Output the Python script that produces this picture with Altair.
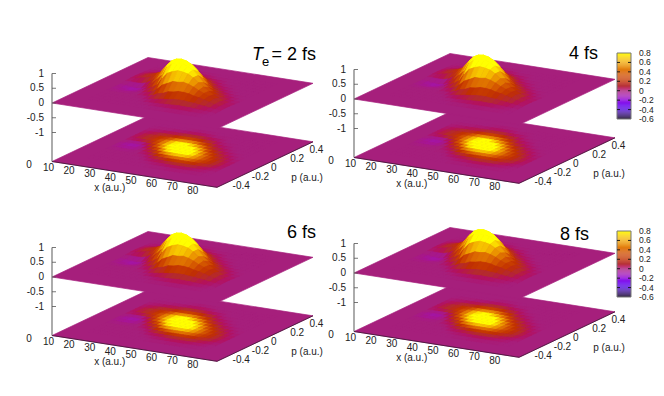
import altair as alt
import pandas as pd

alt.data_transformers.disable_max_rows()

# --- values ---
x_nodes = [20, 22.5, 25, 27.5, 30, 32.5, 35, 37.5, 40, 42.5, 45, 47.5, 50, 52.5, 55, 57.5, 60, 62.5, 65, 67.5, 70, 72.5, 75, 77.5]
p_nodes = [0.40, 0.35, 0.30, 0.25, 0.20, 0.15, 0.10, 0.05, 0.0, -0.05, -0.10, -0.15, -0.20, -0.25, -0.30, -0.35]
# surface height in hundredths; one column per x node, rows follow p_nodes
surface_columns = [
    [0, 0, 0, 1, 2, 3, 2, 1, -2, -2, -1, 0, 0, 0, 0, 0],
    [0, 0, 1, 2, 5, 6, 5, 1, -4, -4, -2, 0, 0, 0, 0, 0],
    [0, 0, 1, 3, 8, 11, 9, 0, -7, -7, -3, 0, 0, 0, 0, 0],
    [0, 0, 1, 5, 11, 15, 12, 1, -9, -8, -3, 0, 0, 0, 0, 0],
    [0, 0, 2, 7, 15, 21, 18, 5, -6, -6, -2, 0, 0, 0, 0, 0],
    [0, 0, 3, 9, 20, 29, 28, 15, 1, -2, -1, 0, 0, 0, 0, 0],
    [0, 0, 3, 10, 23, 37, 41, 32, 16, 5, 1, 0, 0, 0, 0, 0],
    [0, 1, 5, 14, 31, 52, 62, 52, 33, 14, 5, 1, 0, 0, 0, 0],
    [0, 2, 5, 16, 38, 65, 80, 75, 50, 25, 9, 2, 0, 0, 0, 0],
    [0, 2, 6, 17, 40, 68, 92, 94, 80, 50, 22, 7, 2, 0, 0, 0],
    [0, 1, 5, 16, 38, 72, 94, 100, 94, 70, 38, 16, 5, 1, 0, 0],
    [0, 1, 4, 13, 33, 65, 90, 100, 98, 78, 46, 20, 7, 2, 0, 0],
    [0, 0, 2, 9, 24, 50, 80, 97, 99, 84, 55, 28, 10, 3, 1, 0],
    [0, 0, 1, 6, 17, 38, 66, 90, 94, 82, 55, 30, 12, 4, 1, 0],
    [0, 0, 1, 3, 10, 24, 47, 72, 84, 78, 58, 34, 15, 5, 1, 0],
    [0, 0, 0, 1, 4, 12, 28, 52, 68, 68, 54, 34, 16, 6, 2, 0],
    [0, 0, 0, 0, 2, 6, 15, 32, 47, 54, 47, 32, 16, 7, 2, 0],
    [0, 0, 0, 0, 1, 3, 8, 20, 33, 42, 38, 27, 14, 6, 2, 0],
    [0, 0, 0, 0, 0, 1, 4, 11, 22, 30, 31, 24, 13, 6, 2, 0],
    [0, 0, 0, 0, 0, 0, 2, 6, 13, 21, 24, 19, 10, 4, 1, 0],
    [0, 0, 0, 0, 0, 0, 0, 3, 8, 13, 17, 14, 8, 3, 1, 0],
    [0, 0, 0, 0, 0, 0, 0, 1, 3, 7, 10, 9, 5, 2, 1, 0],
    [0, 0, 0, 0, 0, 0, 0, 0, 1, 3, 5, 5, 3, 1, 0, 0],
    [0, 0, 0, 0, 0, 0, 0, 0, 0, 1, 2, 2, 1, 0, 0, 0],
]
panel_peak = [1.0, 1.0, 1.0, 0.98]
panel_names = ["2", "4 fs", "6 fs", "8 fs"]
x_ticks = [10, 20, 30, 40, 50, 60, 70, 80]
p_ticks = [-0.4, -0.2, 0, 0.2, 0.4]
p_tick_text = ["-0.4", "-0.2", "0", "0.2", "0.4"]
z_ticks = [1, 0.5, 0, -0.5, -1]
z_tick_text = ["1", "0.5", "0", "-0.5", "-1"]
cb_ticks = [0.8, 0.6, 0.4, 0.2, 0, -0.2, -0.4, -0.6]
cb_tick_text = ["0.8", "0.6", "0.4", "0.2", "0", "-0.2", "-0.4", "-0.6"]
color_stops = [-0.6, -0.5, -0.4, -0.3, -0.2, -0.1, 0, 0.1, 0.2, 0.3, 0.4, 0.5, 0.6, 0.7, 0.8]
color_values = ["#2a1f3a", "#381080", "#4a00d8", "#6a00f0", "#9010e0", "#a018b0", "#a61f7c", "#b32a30",
                "#c03000", "#cc4400", "#da6400", "#e68400", "#f0a400", "#f8cc00", "#ffff00"]

# --- layout of the gnuplot-style projection ---
X0, X1, P0, P1 = 10, 90, -0.5, 0.5
UX, UY = 165 / 80, 25.8 / 80
VX, VY = 96, -45.5
ZS = 29.5
FLOOR = 58.5
origins = [(52, 103), (354, 99), (52, 277), (354, 273)]
CBAR = [None, (617, 53), None, (617, 231)]
CB_W, CB_H = 14, 66


def proj(o, x, p, z=0.0, floor=False):
    return (o[0] + (x - X0) * UX + (p - P0) * VX,
            o[1] + (x - X0) * UY + (p - P0) * VY - z * ZS + (FLOOR if floor else 0))


rows = []
qid = 0


def add_quad(o, corners, z, floor):
    global qid
    qid += 1
    corners = corners + corners[:1]
    for k, (cx, cp, cz) in enumerate(corners):
        sx, sy = proj(o, cx, cp, cz, floor)
        rows.append(dict(q=qid, k=k, sx=round(sx, 2), sy=round(sy, 2), v=round(z, 3)))


for n, o in enumerate(origins):
    amp = panel_peak[n] / 100
    for flat in (True, False):
        add_quad(o, [(X0, P0, 0), (X1, P0, 0), (X1, P1, 0), (X0, P1, 0)], 0.0, flat)
        for j in range(len(p_nodes) - 1):
            for i in range(len(x_nodes) - 1):
                zs = [surface_columns[i][j], surface_columns[i + 1][j],
                      surface_columns[i + 1][j + 1], surface_columns[i][j + 1]]
                mean = sum(zs) / 4 * amp
                hs = [0 if flat else a * amp for a in zs]
                add_quad(o, [(x_nodes[i], p_nodes[j], hs[0]), (x_nodes[i + 1], p_nodes[j], hs[1]),
                             (x_nodes[i + 1], p_nodes[j + 1], hs[2]), (x_nodes[i], p_nodes[j + 1], hs[3])],
                         mean, flat)

surface = pd.DataFrame(rows)

xs = alt.Scale(domain=[8, 656], nice=False, zero=False)
ys = alt.Scale(domain=[388, 8], nice=False, zero=False)
cs = alt.Scale(domain=color_stops, range=color_values, clamp=True)
X = alt.X("sx:Q", scale=xs, axis=None)
Y = alt.Y("sy:Q", scale=ys, axis=None)

surf = alt.Chart(surface).mark_line(strokeWidth=0.7, interpolate="linear").encode(
    x=X, y=Y, detail="q:N", order="k:Q",
    fill=alt.Fill("v:Q", scale=cs, legend=None),
    stroke=alt.Stroke("v:Q", scale=cs, legend=None),
)

# axes
seg_rows, tx_rows = [], []


def seg(x1, y1, x2, y2, kind):
    seg_rows.append(dict(sx=x1, sy=y1, sx2=x2, sy2=y2, kind=kind))


def text(x, y, t, kind):
    tx_rows.append(dict(sx=x, sy=y, t=t, kind=kind))


for n, o in enumerate(origins):
    seg(o[0], o[1] - ZS, o[0], o[1] + FLOOR, "axis")
    for z, t in zip(z_ticks, z_tick_text):
        y = o[1] - z * ZS
        seg(o[0], y, o[0] + 4, y, "tick")
        text(o[0] - 8, y, t, "right")
    a = proj(o, X0, P0, 0, True)
    b = proj(o, X1, P0, 0, True)
    c = proj(o, X1, P1, 0, True)
    seg(a[0], a[1], b[0], b[1], "edge")
    seg(b[0], b[1], c[0], c[1], "edge")
    text(o[0] - 23, o[1] + FLOOR + 3.5, "0", "center")
    for v in x_ticks:
        s = proj(o, v, P0, 0, True)
        text(s[0] - 3.5, s[1] + 6.5, str(v), "center")
    for v, t in zip(p_ticks, p_tick_text):
        s = proj(o, X1, v, 0, True)
        text(s[0] + 6, s[1] + 3.2, t, "left")
    f = proj(o, 37, P0, 0, True)
    text(f[0] + 2, f[1] + 18, "x (a.u.)", "center")
    r = proj(o, X1, -0.02, 0, True)
    text(r[0] + 44, r[1] + 13, "p (a.u.)", "center")

bar_rows, frame_rows, cb_text_rows = [], [], []
for cb in CBAR:
    if cb is None:
        continue
    steps = 70
    for k in range(steps):
        v = cb_ticks[-1] + (k + 0.5) * 1.4 / steps
        y1 = cb[1] + CB_H * (1 - k / steps)
        y2 = cb[1] + CB_H * (1 - (k + 1) / steps)
        bar_rows.append(dict(sx=cb[0], sx2=cb[0] + CB_W, sy=y1, sy2=y2, v=v))
    frame_rows.append(dict(sx=cb[0], sx2=cb[0] + CB_W, sy=cb[1] + CB_H, sy2=cb[1]))
    for v, t in zip(cb_ticks, cb_tick_text):
        y = cb[1] + CB_H * (0.8 - v) / 1.4
        cb_text_rows.append(dict(sx=cb[0] + 22, sy=y, t=t))
        if -0.6 < v < 0.8:
            seg(cb[0], y, cb[0] + 3, y, "cbtick")
            seg(cb[0] + CB_W - 3, y, cb[0] + CB_W, y, "cbtick")

segs = pd.DataFrame(seg_rows)
texts = pd.DataFrame(tx_rows)


def seg_layer(kind, color, width):
    return alt.Chart(segs[segs.kind == kind]).mark_rule(color=color, strokeWidth=width).encode(
        x=X, y=Y, x2="sx2:Q", y2="sy2:Q")


def text_layer(kind):
    return alt.Chart(texts[texts.kind == kind]).mark_text(
        align=kind, baseline="middle", font="Liberation Sans", fontSize=10, color="#222222").encode(
        x=X, y=Y, text="t:N")


cb_labels = alt.Chart(pd.DataFrame(cb_text_rows)).mark_text(
    align="left", baseline="middle", font="Liberation Sans", fontSize=8.5, color="#222222").encode(
    x=X, y=Y, text="t:N")
bars = alt.Chart(pd.DataFrame(bar_rows)).mark_rect(stroke=None).encode(
    x=X, y=Y, x2="sx2:Q", y2="sy2:Q", fill=alt.Fill("v:Q", scale=cs, legend=None))
frame = alt.Chart(pd.DataFrame(frame_rows)).mark_rect(fill=None, stroke="#777777", strokeWidth=1).encode(
    x=X, y=Y, x2="sx2:Q", y2="sy2:Q")

title_rows = [
    dict(sx=252, sy=55, t="T", st="italic", fs=18, a="left"),
    dict(sx=262, sy=62, t="e", st="normal", fs=13, a="left"),
    dict(sx=316, sy=55, t="= " + panel_names[0] + " fs", st="normal", fs=18, a="right"),
    dict(sx=598, sy=54, t=panel_names[1], st="normal", fs=18, a="right"),
    dict(sx=316, sy=233, t=panel_names[2], st="normal", fs=18, a="right"),
    dict(sx=589, sy=235, t=panel_names[3], st="normal", fs=18, a="right"),
]
tdf = pd.DataFrame(title_rows)
titles = []
for (st, fs, a), g in tdf.groupby(["st", "fs", "a"]):
    titles.append(alt.Chart(g).mark_text(align=a, baseline="middle", font="Liberation Sans", fontSize=fs,
                                         fontStyle=st, color="#000000").encode(x=X, y=Y, text="t:N"))

chart = alt.layer(
    surf,
    seg_layer("axis", "#888888", 1.4),
    seg_layer("tick", "#555555", 0.8),
    seg_layer("edge", "#3a1030", 0.8),
    bars, frame,
    seg_layer("cbtick", "#111111", 0.9),
    text_layer("right"), text_layer("left"), text_layer("center"), cb_labels,
    *titles,
).resolve_scale(fill="shared", stroke="shared").properties(
    width=648, height=380, padding=0, autosize=alt.AutoSizeParams(type="none")
).configure_view(stroke=None)

chart.save("out.html", embed_options={"renderer": "svg", "actions": False})
